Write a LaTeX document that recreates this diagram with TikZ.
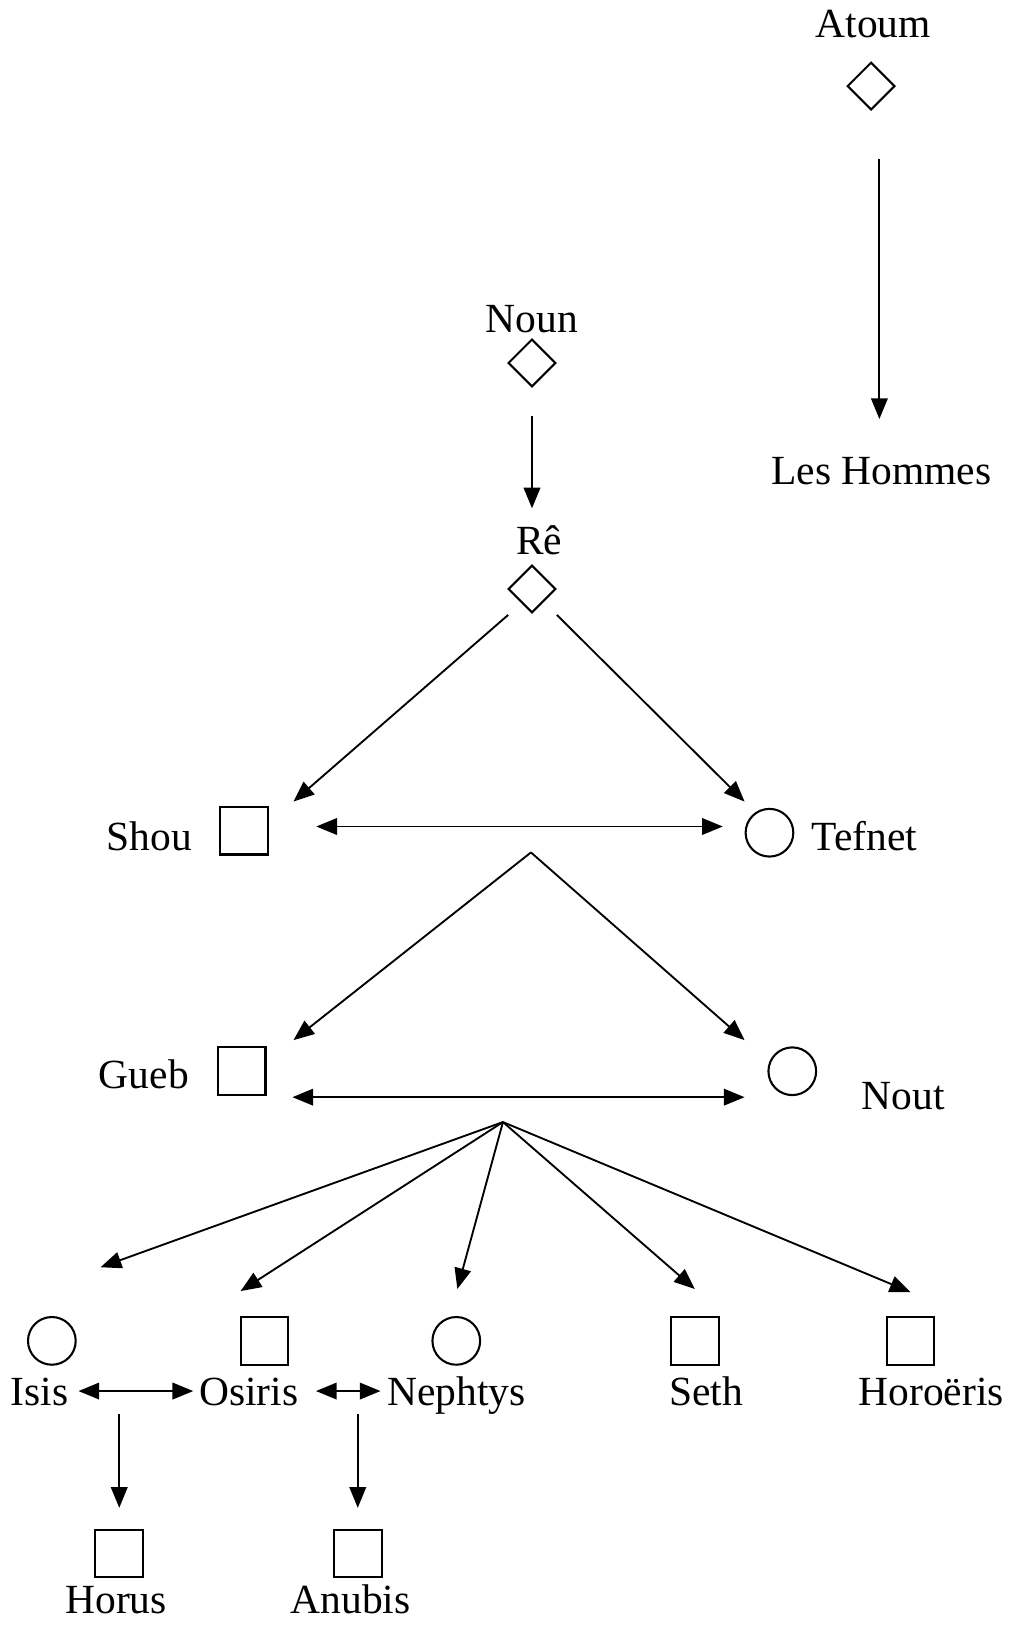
\documentclass[tikz,border=0pt]{standalone}
\usepackage{fontspec}
\setmainfont{Liberation Serif}
\usepackage{tikz}
\usetikzlibrary{arrows.meta,positioning,shapes.geometric}

\begin{document}
\begin{tikzpicture}[
		x=0.5pt, y=-0.5pt, line width=0.9pt,
		basic/.style  = {draw, line width=1pt, inner sep=0pt},
		prim/.style   = {basic, diamond, minimum size=23pt},
		male/.style   = {basic, rectangle, minimum size=23pt},
		female/.style = {basic, circle, minimum size=23pt},
		lbl/.style    = {font=\fontsize{20}{24}\selectfont, inner sep=0pt, text height=13.5pt, text depth=0pt},
		>={Triangle[length=10pt,width=8pt]}]
		
		\useasboundingbox (0,0) rectangle (977,1567);
		
		% Atoum and the men
		\node[prim] (atoum) at (840,83) {};
		\node[lbl, above=11pt of atoum, xshift=1pt] (tatoum) {Atoum};
		\node[lbl, anchor=base] (thommes) at (850,467) {Les Hommes};
		
		% Noun and Re
		\node[prim] (noun) at (513,350) {};
		\node[lbl, above=2pt of noun] (tnoun) {Noun};
		\node[prim] (re) at (513,568) {};
		\node[lbl, above=4pt of re, xshift=3.5pt] (tre) {Rê};
		
		% First couple
		\node[male] (shou) at (235,801) {};
		\node[lbl, left=12.5pt of shou, yshift=-2.75pt] (tshou) {Shou};
		\node[female] (tefnet) at (742,803) {};
		\node[lbl, right=8pt of tefnet, yshift=-1.75pt] (ttefnet) {Tefnet};
		\coordinate (st) at (512,822);
		
		% Second couple
		\node[male] (gueb) at (233,1033) {};
		\node[lbl, left=13pt of gueb, yshift=-1.75pt] (tgueb) {Gueb};
		\node[female] (nout) at (764,1033) {};
		\node[lbl, right=21pt of nout, yshift=-11.75pt] (tnout) {Nout};
		\coordinate (gn) at (485,1082);
		
		% Children of Gueb and Nout
		\node[female] (isis) at (50,1293) {};
		\node[male] (osiris) at (255,1293) {};
		\node[female] (nephtys) at (440,1293) {};
		\node[male] (seth) at (670,1293) {};
		\node[male] (horoeris) at (878,1293) {};
		\foreach \n/\t/\dx in {isis/Isis/-6pt, osiris/Osiris/-7.5pt, nephtys/Nephtys/0pt, seth/Seth/5.5pt, horoeris/Horoëris/10pt}
		\node[lbl, below=5pt of \n, xshift=\dx] (t\n) {\t};
		
		% Last level
		\node[male] (horus) at (115,1498) {};
		\node[lbl, below=3pt of horus, xshift=-1.5pt] (thorus) {Horus};
		\node[male] (anubis) at (345,1498) {};
		\node[lbl, below=3pt of anubis, xshift=-3.5pt] (tanubis) {Anubis};
		
		% Arrows
		\draw[->, shorten <=23pt, shorten >=17.5pt] ([xshift=4pt]atoum.south) -- ([xshift=4pt]atoum.south |- thommes.north);
		\draw[->, shorten <=13.5pt, shorten >=8.5pt] (noun.south) -- (noun.south |- tre.north);
		
		\draw[->] ([shift={(-23,25)}]re.center) -- ([shift={(48,-28)}]shou.center);
		\draw[->] ([shift={(24,25)}]re.center) -- ([shift={(-24,-30)}]tefnet.center);
		\draw[<->] ([shift={(70,-4)}]shou.center) -- ([shift={(-45,-6)}]tefnet.center);
		
		\draw[->] (st) -- ([shift={(50,-30)}]gueb.center);
		\draw[->] (st) -- ([shift={(-46,-30)}]nout.center);
		\draw[<->] ([shift={(49,25)}]gueb.center) -- ([shift={(-46,25)}]nout.center);
		
		\foreach \n/\dx/\dy in {isis/47/-71, osiris/-23/-48, nephtys/1/-50, seth/0/-50, horoeris/0/-47}
		\draw[->] (gn) -- ([shift={(\dx,\dy)}]\n.center);
		
		\draw[<->, shorten <=4.5pt, shorten >=2.5pt] (tisis.east) -- (tosiris.west);
		\draw[<->, shorten <=8pt, shorten >=2.75pt] (tosiris.east) -- (tnephtys.west);
		\draw[->, shorten <=11.25pt, shorten >=10pt] (tisis.east -| horus) -- (horus.north);
		\draw[->, shorten <=11.25pt, shorten >=10pt] (tosiris.east -| anubis) -- (anubis.north);
		
	\end{tikzpicture}
\end{document}
